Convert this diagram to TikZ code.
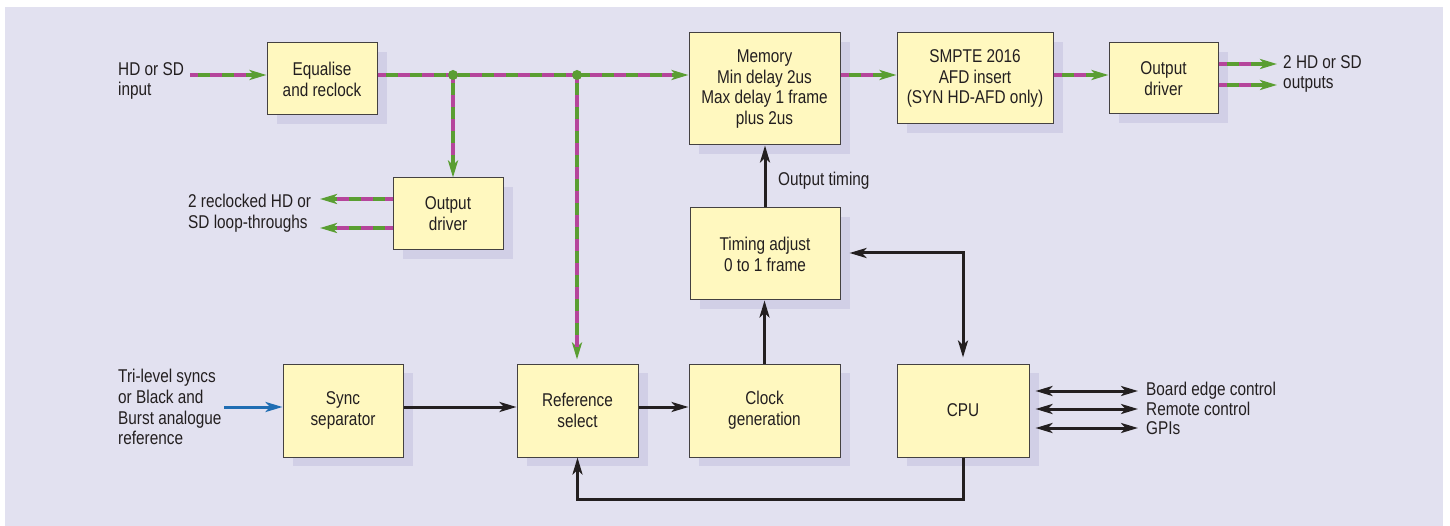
\documentclass[tikz,border=0pt]{standalone}
\usepackage{fontspec}
\setmainfont{Liberation Sans}[FakeStretch=0.83]
\usetikzlibrary{arrows.meta,shadows}
\definecolor{bg}{HTML}{E2E1F0}
\definecolor{boxfill}{HTML}{FFF8BF}
\definecolor{shadowc}{HTML}{D1CFE6}
\definecolor{sgreen}{HTML}{5A9E32}
\definecolor{smag}{HTML}{B5459B}
\definecolor{sblue}{HTML}{1F6DB3}
\definecolor{ink}{HTML}{231F20}
\begin{document}
\begin{tikzpicture}[x=1pt,y=-1pt,
  every node/.style={font=\fontsize{18.5}{20.8}\selectfont, text=ink},
  blk/.style={draw=ink!85, line width=1pt, fill=boxfill, align=center, inner sep=0pt,
    general shadow={fill=shadowc, shadow xshift=10pt, shadow yshift=-9pt}},
  lbl/.style={align=left, anchor=west, inner sep=0pt},
  sig/.style={draw=sgreen, line width=3.5pt, -{Stealth[length=17pt,width=10pt,inset=4.5pt]},
    postaction={draw=smag, line width=3.5pt, dash pattern=on 12pt off 12pt, dash phase=4pt, shorten >=17pt, -}},
  arr/.style={draw=ink, line width=3pt, -{Stealth[length=17pt,width=10pt,inset=4.5pt]}},
  barr/.style={draw=ink, line width=3pt, {Stealth[length=17pt,width=10pt,inset=4.5pt]}-{Stealth[length=17pt,width=10pt,inset=4.5pt]}},
  bluearr/.style={draw=sblue, line width=3pt, -{Stealth[length=17pt,width=10pt,inset=4.5pt]}},
  dot/.style={circle, fill=sgreen, inner sep=0pt, minimum size=10pt}
]
\useasboundingbox (0,0) rectangle (1450,526);
\fill[bg] (5,7) rectangle (1443,526);

% boxes
\node[blk, minimum width=110pt, minimum height=72pt] (eq) at (322,79) {Equalise\\and reclock};
\node[blk, minimum width=151pt, minimum height=112pt] (mem) at (764.5,89) {Memory\\Min delay 2us\\Max delay 1 frame\\plus 2us};
\node[blk, minimum width=156pt, minimum height=91pt] (smpte) at (975,78.5) {SMPTE 2016\\AFD insert\\(SYN HD-AFD only)};
\node[blk, minimum width=109pt, minimum height=71pt] (outr) at (1163.5,78.5) {Output\\driver};
\node[blk, minimum width=110pt, minimum height=72pt] (outl) at (448,214) {Output\\driver};
\node[blk, minimum width=150pt, minimum height=92pt] (tim) at (765,254) {Timing adjust\\0 to 1 frame};
\node[blk, minimum width=120pt, minimum height=93pt] (sync) at (343,410.5) {Sync\\separator};
\node[blk, minimum width=121pt, minimum height=93pt] (ref) at (577.5,410.5) {Reference\\select};
\node[blk, minimum width=151pt, minimum height=93pt] (clk) at (764.5,410.5) {Clock\\generation};
\node[blk, minimum width=132pt, minimum height=93pt] (cpu) at (963,410.5) {CPU};

% labels
\node[lbl] (tin) at (118,81) {HD or SD\\input};
\node[lbl] (tlp) at (188,213) {2 reclocked HD or\\SD loop-throughs};
\node[lbl] (tout) at (1283,74) {2 HD or SD\\outputs};
\node[lbl] (tref) at (118,407) {Tri-level syncs\\or Black and\\Burst analogue\\reference};
\node[lbl] (tot) at (778,181) {Output timing};
\node[lbl] (tb1) at (1146,391) {Board edge control};
\node[lbl] (tb2) at (1146,409) {Remote control};
\node[lbl] (tb3) at (1146,428) {GPIs};

% coordinates
\coordinate (inL) at (190,75);
\coordinate (d1) at (453,75);
\coordinate (d2) at (577,75);
\coordinate (o1) at (1277,64);
\coordinate (o2) at (1277,85);
\coordinate (l1) at (320,199);
\coordinate (l2) at (320,228);
\coordinate (bin) at (224,407);
\coordinate (cc) at (963,253);
\coordinate (c1) at (1138,391);
\coordinate (c2) at (1138,409);
\coordinate (c3) at (1138,428);
\coordinate (bb) at (963,499);

% signal paths
\draw[sig] (inL) -- (eq.west |- inL);
\draw[sig] (eq.east |- d1) -- (mem.west |- d1);
\draw[sig] (d1) -- (outl.north -| d1);
\draw[sig, shorten >=4pt] (d2) -- (ref.north -| d2);
\draw[sig] (mem.east |- d1) -- (smpte.west |- d1);
\draw[sig] (smpte.east |- d1) -- (outr.west |- d1);
\draw[sig] (outr.east |- o1) -- (o1);
\draw[sig] (outr.east |- o2) -- (o2);
\draw[sig] (outl.west |- l1) -- (l1);
\draw[sig] (outl.west |- l2) -- (l2);
\node[dot] (dd1) at (d1) {};
\node[dot] (dd2) at (d2) {};

% control paths
\draw[bluearr] (bin) -- (sync.west |- bin);
\draw[arr] (sync.east |- bin) -- (ref.west |- bin);
\draw[arr] (ref.east |- bin) -- (clk.west |- bin);
\draw[arr] (clk.north) -- (clk.north |- tim.south);
\draw[arr] (tim.north) -- (tim.north |- mem.south);
\draw[barr, shorten <=9pt, shorten >=6pt] (tim.east |- cc) -- (cc) -- (cpu.north);
\draw[barr, shorten <=6pt] (cpu.east |- c1) -- (c1);
\draw[barr, shorten <=6pt] (cpu.east |- c2) -- (c2);
\draw[barr, shorten <=6pt] (cpu.east |- c3) -- (c3);
\draw[arr, line join=miter] (cpu.south) -- (bb) -- (ref.south |- bb) -- (ref.south);
\end{tikzpicture}
\end{document}
